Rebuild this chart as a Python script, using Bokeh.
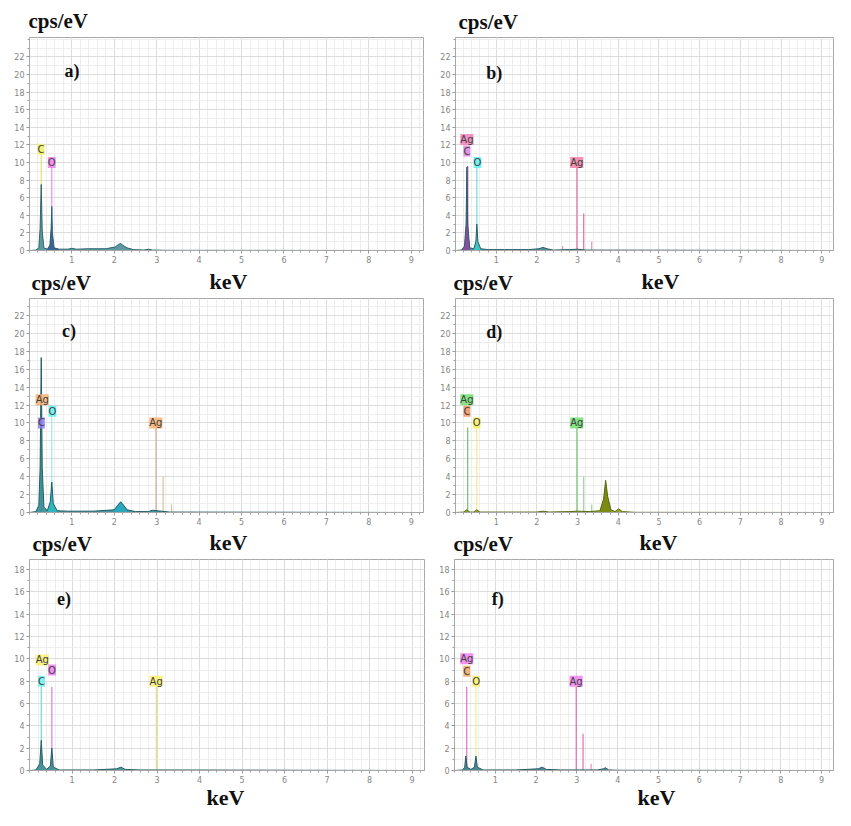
from bokeh.plotting import figure
from bokeh.models import Range1d, FixedTicker, ColumnDataSource, LabelSet, Label
from bokeh.layouts import column, row
from bokeh.embed import file_html
from bokeh.resources import INLINE
from bokeh.core.properties import field, value
import numpy as np

SERIF = "Liberation Serif"
SANS = "DejaVu Sans"

# ---------------- data ----------------
x_ticks = [1, 2, 3, 4, 5, 6, 7, 8, 9]
y_ticks_tall = [0, 2, 4, 6, 8, 10, 12, 14, 16, 18, 20, 22]
y_ticks_short = [0, 2, 4, 6, 8, 10, 12, 14, 16, 18]
panel_names = ["a)", "b)", "c)", "d)", "e)", "f)"]
y_unit = "cps/eV"
x_unit = "keV"

# spectra (keV, cps/eV)
a_keV = [0.00, 0.15, 0.22, 0.25, 0.277, 0.30, 0.34, 0.42, 0.48, 0.51, 0.525, 0.54, 0.58, 0.70, 0.90, 1.00, 1.10, 1.40, 1.80, 2.02, 2.10, 2.15, 2.20, 2.30, 2.45, 2.70, 2.80, 2.90, 3.20, 9.29]
a_cps = [0.0, 0.05, 0.3, 2.5, 7.5, 2.2, 0.3, 0.15, 0.6, 2.5, 5.0, 2.0, 0.3, 0.15, 0.15, 0.25, 0.15, 0.2, 0.2, 0.4, 0.7, 0.8, 0.6, 0.3, 0.1, 0.05, 0.15, 0.05, 0.02, 0.0]

b_keV = [0.00, 0.15, 0.22, 0.26, 0.28, 0.30, 0.35, 0.45, 0.50, 0.525, 0.55, 0.62, 0.80, 1.20, 1.80, 2.05, 2.15, 2.25, 2.40, 2.80, 3.00, 3.20, 9.29]
b_cps = [0.0, 0.05, 0.5, 3.0, 9.5, 3.0, 0.3, 0.2, 1.0, 3.0, 1.0, 0.2, 0.1, 0.1, 0.1, 0.2, 0.35, 0.2, 0.05, 0.1, 0.15, 0.05, 0.0]

c_keV = [0.00, 0.15, 0.22, 0.25, 0.277, 0.30, 0.34, 0.42, 0.49, 0.525, 0.56, 0.65, 0.90, 1.50, 2.00, 2.08, 2.15, 2.22, 2.30, 2.50, 2.80, 2.90, 3.30, 9.29]
c_cps = [0.0, 0.1, 0.8, 5.0, 17.3, 5.0, 0.6, 0.2, 1.2, 3.4, 1.0, 0.2, 0.15, 0.15, 0.3, 0.8, 1.2, 0.8, 0.3, 0.1, 0.1, 0.25, 0.05, 0.0]

d_keV = [0.00, 0.20, 0.277, 0.35, 0.45, 0.525, 0.60, 1.00, 2.00, 2.15, 2.30, 2.80, 3.00, 3.30, 3.55, 3.64, 3.69, 3.74, 3.82, 3.92, 4.01, 4.10, 4.40, 9.29]
d_cps = [0.0, 0.05, 0.3, 0.05, 0.05, 0.3, 0.05, 0.05, 0.05, 0.15, 0.05, 0.1, 0.15, 0.1, 0.2, 1.5, 3.6, 1.8, 0.3, 0.1, 0.4, 0.1, 0.02, 0.0]

e_keV = [0.00, 0.15, 0.24, 0.277, 0.31, 0.40, 0.49, 0.525, 0.56, 0.70, 1.50, 2.05, 2.15, 2.25, 2.60, 3.00, 9.29]
e_cps = [0.0, 0.05, 0.6, 2.7, 0.5, 0.1, 0.4, 2.0, 0.3, 0.05, 0.05, 0.15, 0.3, 0.1, 0.05, 0.05, 0.0]

f_keV = [0.00, 0.20, 0.25, 0.277, 0.31, 0.40, 0.49, 0.525, 0.56, 0.70, 1.50, 2.05, 2.15, 2.25, 2.60, 3.50, 3.65, 3.70, 3.78, 4.00, 9.29]
f_cps = [0.0, 0.05, 0.3, 1.3, 0.3, 0.1, 0.3, 1.3, 0.3, 0.05, 0.05, 0.15, 0.3, 0.1, 0.05, 0.05, 0.15, 0.25, 0.05, 0.02, 0.0]

# element marker lines (keV, height)
a_line_keV = [0.277, 0.525]
a_line_h = [11.0, 9.5]
b_line_keV = [0.30, 0.525, 2.634, 2.984, 3.151, 3.348]
b_line_h = [9.6, 10.0, 0.5, 10.0, 4.2, 1.0]
c_line_keV = [0.277, 0.525, 2.984, 3.151, 3.348]
c_line_h = [12.5, 11.3, 10.0, 4.0, 0.9]
d_line_keV = [0.30, 0.525, 2.984, 3.151, 3.348]
d_line_h = [9.5, 10.0, 9.5, 4.0, 0.9]
e_line_keV = [0.277, 0.525, 2.984]
e_line_h = [7.5, 7.5, 7.5]
f_line_keV = [0.30, 0.525, 2.984, 3.151, 3.348]
f_line_h = [7.5, 7.8, 7.5, 3.3, 0.6]

# element labels
a_lab_text = ["C", "O"]
a_lab_keV = [0.27, 0.525]
a_lab_y = [11.5, 10.0]
b_lab_text = ["Ag", "C", "O", "Ag"]
b_lab_keV = [0.28, 0.28, 0.54, 2.98]
b_lab_y = [12.6, 11.3, 10.0, 10.0]
c_lab_text = ["Ag", "O", "C", "Ag"]
c_lab_keV = [0.30, 0.54, 0.28, 2.98]
c_lab_y = [12.6, 11.3, 10.0, 10.0]
d_lab_text = ["Ag", "C", "O", "Ag"]
d_lab_keV = [0.28, 0.28, 0.52, 2.98]
d_lab_y = [12.6, 11.3, 10.0, 10.0]
e_lab_text = ["Ag", "O", "C", "Ag"]
e_lab_keV = [0.30, 0.53, 0.28, 2.98]
e_lab_y = [9.9, 9.0, 8.0, 8.0]
f_lab_text = ["Ag", "C", "O", "Ag"]
f_lab_keV = [0.30, 0.30, 0.53, 2.98]
f_lab_y = [10.0, 8.9, 8.0, 8.0]

# ---------------- styles ----------------
styles = {
    "a": dict(fill="#4a8e98", line="#2f6470",
              hl=[(0.40, 0.70, "#3c5e96")],
              line_colors=["#e8e070", "#e890e8"],
              lab_bg=["#f0f060", "#f080f0"]),
    "b": dict(fill="#3f7f8a", line="#2f5f6a",
              hl=[(0.15, 0.40, "#8a4aa0"), (0.40, 0.70, "#40c4c4")],
              line_colors=["#b050a0", "#70e0e0", "#e890b8", "#e070a0", "#e070a0", "#e890b8"],
              lab_bg=["#f080b8", "#e080e0", "#60f0f0", "#f080a8"]),
    "c": dict(fill="#2f8a94", line="#1f5f68",
              hl=[(0.40, 0.70, "#30b8c0"), (1.95, 2.40, "#2aa8c0")],
              line_colors=["#e0a870", "#a0e8e8", "#c8b090", "#d8c0a0", "#d8c0a0"],
              lab_bg=["#f8b070", "#60f0f0", "#9080f0", "#f8b070"]),
    "d": dict(fill="#8a9a18", line="#5a6a10",
              hl=[(3.45, 3.90, "#7a8a10")],
              line_colors=["#70c070", "#f0e890", "#70c870", "#90d890", "#90d890"],
              lab_bg=["#70e070", "#f09060", "#f8f060", "#70e070"]),
    "e": dict(fill="#3a8a90", line="#2a5f68",
              hl=[],
              line_colors=["#70d8d8", "#e080e0", "#e8e070"],
              lab_bg=["#f8f070", "#f080f0", "#70f0f0", "#f8f070"]),
    "f": dict(fill="#3a7a88", line="#2a5a66",
              hl=[],
              line_colors=["#e070c0", "#f0f090", "#e070b0", "#e070b0", "#e890c0"],
              lab_bg=["#f080f0", "#f0a860", "#f8f070", "#f080f0"]),
}

spectra = {
    "a": (a_keV, a_cps, a_line_keV, a_line_h, a_lab_text, a_lab_keV, a_lab_y),
    "b": (b_keV, b_cps, b_line_keV, b_line_h, b_lab_text, b_lab_keV, b_lab_y),
    "c": (c_keV, c_cps, c_line_keV, c_line_h, c_lab_text, c_lab_keV, c_lab_y),
    "d": (d_keV, d_cps, d_line_keV, d_line_h, d_lab_text, d_lab_keV, d_lab_y),
    "e": (e_keV, e_cps, e_line_keV, e_line_h, e_lab_text, e_lab_keV, e_lab_y),
    "f": (f_keV, f_cps, f_line_keV, f_line_h, f_lab_text, f_lab_keV, f_lab_y),
}

# ---------------- layout geometry (pixels) ----------------
X_MAX = 9.29
TOTAL_W = 835
COL1_W = 428
COL2_W = TOTAL_W - COL1_W

# panel rows: (height, ymax, yticks, [(key, width, border l, r, t, b)])
rows_geom = [
    (234, 24.2, y_ticks_tall, [("a", COL1_W, 29, 5, 3, 17), ("b", COL2_W, 27, 2, 2, 18)]),
    (234, 23.9, y_ticks_tall, [("c", COL1_W, 29, 5, 2, 17), ("d", COL2_W, 27, 2, 3, 17)]),
    (229, 18.9, y_ticks_short, [("e", COL1_W, 29, 4, 2, 15), ("f", COL2_W, 26, 2, 3, 15)]),
]

# header/footer bands: (height, [(text, x, y, align, size)])
bands = [
    (34, [(y_unit, 28, 20, "left", "21px"), (y_unit, 458, 21, "left", "21px")]),
    (27, [(x_unit, 228, 13, "center", "22px"), (x_unit, 660, 13, "center", "22px"),
          (y_unit, 31, 14, "left", "21px"), (y_unit, 453, 14, "left", "21px")]),
    (27, [(x_unit, 228, 13, "center", "22px"), (x_unit, 658, 13, "center", "22px"),
          (y_unit, 32, 14, "left", "21px"), (y_unit, 453, 14, "left", "21px")]),
    (25, [(x_unit, 225, 12, "center", "22px"), (x_unit, 656, 12, "center", "22px")]),
]

# panel letter positions (data coords)
letter_pos = {"a": (1.0, 20.4), "b": (0.95, 20.2), "c": (0.93, 20.3),
              "d": (0.95, 20.2), "e": (0.81, 15.35), "f": (1.06, 15.4)}


def make_band(h, items):
    p = figure(width=TOTAL_W, height=h, output_backend="svg", toolbar_location=None,
               x_range=Range1d(0, TOTAL_W), y_range=Range1d(h, 0),
               x_axis_type=None, y_axis_type=None, min_border=0)
    p.outline_line_color = None
    p.background_fill_color = "white"
    p.border_fill_color = "white"
    for (txt, x, y, align, size) in items:
        p.text(x=[x], y=[y], text=[txt], text_align=align, text_baseline="middle",
               text_font=value(SERIF), text_font_style="bold", text_font_size=size,
               text_color="#111111")
    return p


def make_panel(key, W, H, bl, br, bt, bb, ymax, yticks):
    p = figure(width=W, height=H, output_backend="svg", toolbar_location=None,
               x_range=Range1d(0, X_MAX), y_range=Range1d(0, ymax),
               min_border_left=bl, min_border_right=br,
               min_border_top=bt, min_border_bottom=bb)
    p.background_fill_color = "white"
    p.border_fill_color = "white"
    p.outline_line_color = "#a8a8a8"
    p.outline_line_width = 1

    p.xaxis.ticker = FixedTicker(ticks=x_ticks,
                                 minor_ticks=list(np.round(np.arange(0, X_MAX, 0.2), 2)))
    p.yaxis.ticker = FixedTicker(ticks=yticks, minor_ticks=list(range(0, int(ymax) + 1)))
    for ax in (p.xaxis, p.yaxis):
        ax.axis_line_color = "#a8a8a8"
        ax.major_tick_line_color = "#909090"
        ax.minor_tick_line_color = "#a0a0a0"
        ax.major_tick_out = 3
        ax.major_tick_in = 0
        ax.minor_tick_out = 2
        ax.minor_tick_in = 0
        ax.major_label_standoff = 2
        ax.major_label_text_font = SANS
        ax.major_label_text_font_size = "8px"
        ax.major_label_text_color = "#858585"
    p.xgrid.grid_line_color = "#dcdcdc"
    p.ygrid.grid_line_color = "#dcdcdc"
    p.xgrid.minor_grid_line_color = "#eeeeee"
    p.ygrid.minor_grid_line_color = "#eeeeee"

    keV, cps, lk, lh, lt, lx, ly = spectra[key]
    st = styles[key]

    # element marker lines
    p.segment(x0=lk, y0=[0] * len(lk), x1=lk, y1=lh, line_color=st["line_colors"], line_width=1.2)

    # spectrum
    p.varea(x=keV, y1=[0] * len(keV), y2=cps, fill_color=st["fill"], fill_alpha=0.9)
    karr = np.array(keV)
    carr = np.array(cps)
    for lo, hi, col in st["hl"]:
        m = (karr >= lo) & (karr <= hi)
        p.varea(x=list(karr[m]), y1=[0] * int(m.sum()), y2=list(carr[m]),
                fill_color=col, fill_alpha=0.95)
    p.line(keV, cps, line_color=st["line"], line_width=1)

    # element labels
    src = ColumnDataSource(dict(x=lx, y=ly, text=lt, bg=st["lab_bg"]))
    p.add_layout(LabelSet(x="x", y="y", text="text", source=src,
                          text_align="center", text_baseline="middle",
                          text_font=value(SANS), text_font_size="10px", text_color="#404040",
                          background_fill_color=field("bg"), background_fill_alpha=0.85))

    # panel letter
    lx0, ly0 = letter_pos[key]
    p.add_layout(Label(x=lx0, y=ly0, text=panel_names["abcdef".index(key)],
                       text_align="center", text_baseline="middle",
                       text_font=SERIF, text_font_style="bold", text_font_size="18px",
                       text_color="#111111"))
    return p


items = [make_band(*bands[0])]
for i, (H, ymax, yticks, figs) in enumerate(rows_geom):
    pr = [make_panel(key, W, H, bl, br, bt, bb, ymax, yticks) for (key, W, bl, br, bt, bb) in figs]
    items.append(row(*pr))
    items.append(make_band(*bands[i + 1]))

layout = column(*items)
open("out.html", "w").write(file_html(layout, INLINE))
